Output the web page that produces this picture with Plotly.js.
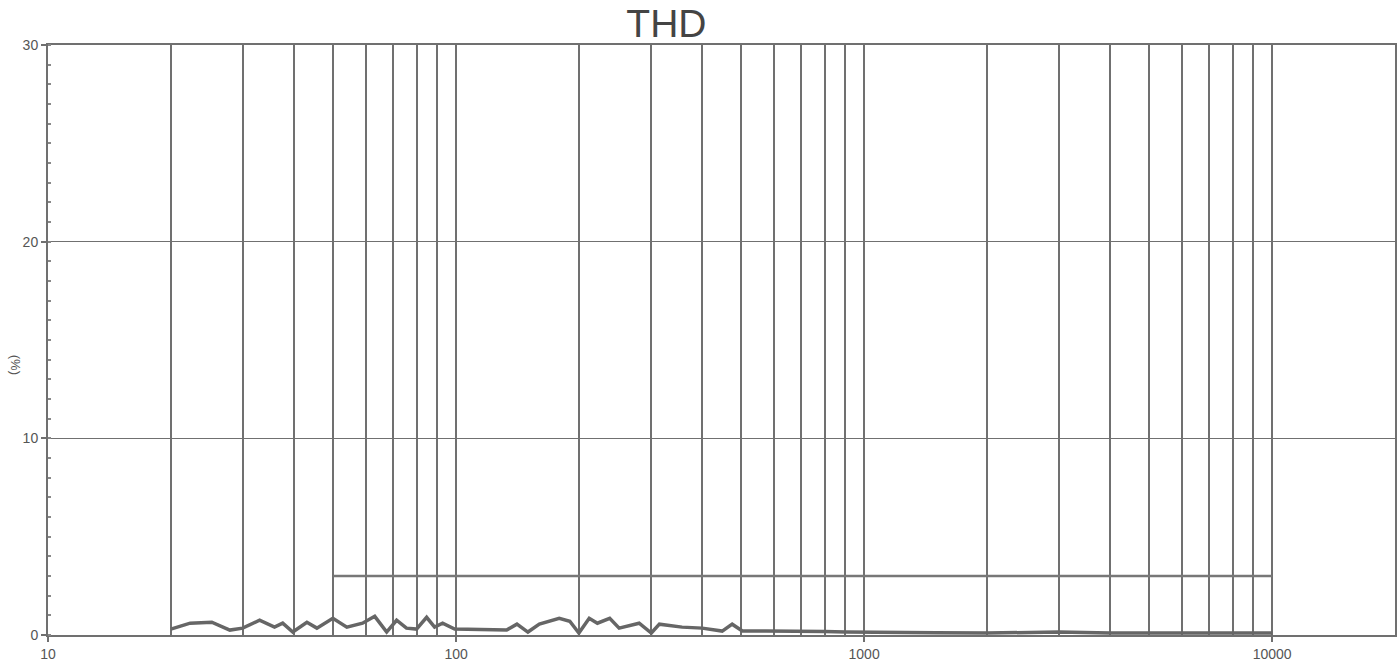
<!DOCTYPE html>
<html>
<head>
<meta charset="utf-8">
<script src="https://cdn.plot.ly/plotly-3.0.1.min.js"></script>
<style>html,body{margin:0;padding:0;background:#fff;}#chart{width:1400px;height:666px;}</style>
</head>
<body>
<div id="chart"></div>
<script>
// THD measured curve (Hz, %)
const freqHz = [20, 22.3, 25.2, 27.9, 30, 33, 35.9, 37.6, 39.8, 43.1, 45.6, 49.9, 54, 59, 63.2, 67.6, 71.5, 75.6, 80, 84.7, 88.6, 92.7, 99.2, 116, 133, 141, 150, 160, 179, 190, 200, 212, 222, 238, 251, 281, 301, 315, 358, 401, 449, 475, 503, 575, 693, 800, 900, 1000, 1200, 1500, 2000, 3000, 4000, 5000, 7000, 10000];
const thdPct = [0.3, 0.6, 0.65, 0.25, 0.35, 0.75, 0.4, 0.6, 0.15, 0.65, 0.35, 0.85, 0.4, 0.6, 0.95, 0.15, 0.75, 0.35, 0.3, 0.9, 0.4, 0.6, 0.3, 0.25, 0.25, 0.55, 0.15, 0.55, 0.85, 0.7, 0.1, 0.85, 0.6, 0.85, 0.35, 0.6, 0.1, 0.55, 0.4, 0.35, 0.2, 0.55, 0.2, 0.2, 0.2, 0.18, 0.15, 0.15, 0.12, 0.12, 0.1, 0.15, 0.1, 0.1, 0.12, 0.1];
// Limit line
const limitHz = [50, 10000];
const limitPct = [3, 3];
// Axis ticks
const xMajorVals = [10, 100, 1000, 10000];
const xMajorText = ["10", "100", "1000", "10000"];
const xMinorVals = [20, 30, 40, 50, 60, 70, 80, 90, 200, 300, 400, 500, 600, 700, 800, 900, 2000, 3000, 4000, 5000, 6000, 7000, 8000, 9000];
const yTickVals = [0, 10, 20, 30];

const gridCol = '#707070';
const textCol = '#555';

const traces = [
  {x: limitHz, y: limitPct, type: 'scatter', mode: 'lines', line: {color: '#777', width: 2.5}, hoverinfo: 'skip'},
  {x: freqHz, y: thdPct, type: 'scatter', mode: 'lines', line: {color: '#666', width: 3.5}}
];

const layout = {
  width: 1400, height: 666,
  margin: {l: 48, r: 5, t: 45, b: 31},
  paper_bgcolor: '#fff', plot_bgcolor: '#fff',
  showlegend: false,
  font: {family: 'Liberation Sans, Arial, sans-serif', color: textCol},
  title: {text: 'THD', font: {size: 39, color: '#444'}, xref: 'container', x: 0.476, xanchor: 'center', yref: 'container', y: 0.965, yanchor: 'middle'},
  xaxis: {
    type: 'log', range: [1, Math.log10(20000)],
    tickmode: 'array', tickvals: xMajorVals, ticktext: xMajorText,
    ticks: 'outside', ticklen: 5, tickcolor: gridCol, tickwidth: 2,
    tickfont: {size: 14, color: textCol},
    showgrid: true, gridcolor: gridCol, gridwidth: 2,
    minor: {tickmode: 'array', tickvals: xMinorVals, showgrid: true, gridcolor: gridCol, gridwidth: 2, ticks: ''},
    showline: true, linecolor: gridCol, linewidth: 2, mirror: true,
    zeroline: false, fixedrange: true
  },
  yaxis: {
    range: [0, 30],
    tickmode: 'array', tickvals: yTickVals,
    ticks: 'outside', ticklen: 5, tickcolor: gridCol, tickwidth: 2,
    tickfont: {size: 14, color: textCol},
    showgrid: true, gridcolor: gridCol, gridwidth: 1.5,
    minor: {dtick: 1, ticks: 'inside', ticklen: 3, tickcolor: '#888', showgrid: false},
    showline: true, linecolor: gridCol, linewidth: 2, mirror: true,
    zeroline: false, fixedrange: true
  },
  annotations: [
    {text: '(%)', xref: 'paper', yref: 'paper', x: -0.0245, y: 0.458, showarrow: false, textangle: 90, font: {size: 13, color: textCol}, xanchor: 'center', yanchor: 'middle'}
  ]
};

Plotly.newPlot('chart', traces, layout, {displayModeBar: false, staticPlot: true});
</script>
</body>
</html>
